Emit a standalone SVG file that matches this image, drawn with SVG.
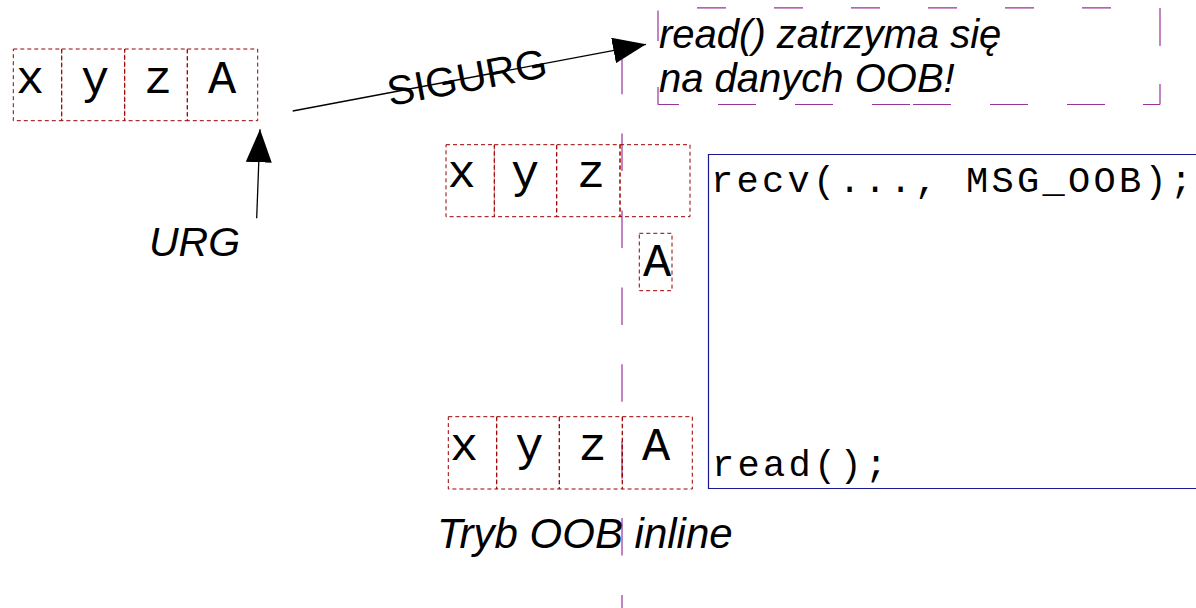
<svg xmlns="http://www.w3.org/2000/svg" width="1196" height="608" viewBox="0 0 1196 608">
  <style>
    .cell { fill: none; stroke: #990000; stroke-width: 1; stroke-dasharray: 4 3; }
    .ch { font-family: "Liberation Mono", "Courier New", monospace; font-size: 47px; fill: #000; text-anchor: middle; }
    .code { font-family: "Liberation Mono", "Courier New", monospace; font-size: 37px; letter-spacing: 3.3px; fill: #000; }
    .lbl { font-family: "Liberation Sans", Arial, sans-serif; font-size: 40px; fill: #000; font-style: italic; }
    .sig { font-family: "Liberation Sans", Arial, sans-serif; font-size: 41px; fill: #000; }
    .conn { stroke: #000; stroke-width: 1.3; fill: none; marker-end: url(#head); }
    .purple { stroke: #993399; stroke-width: 1.2; fill: none; }
  </style>
  <defs>
    <marker id="head" viewBox="0 0 33 26" refX="33" refY="13" markerWidth="33" markerHeight="26" markerUnits="userSpaceOnUse" orient="auto">
      <path d="M0,0 L33,13 L0,26 Z" fill="#000"/>
    </marker>
  </defs>
  <rect width="1196" height="608" fill="#fff"/>

  <!-- vertical dashed divider -->
  <line class="purple" x1="622" y1="56.7" x2="622" y2="608" stroke-dasharray="37.5 39.4"/>

  <!-- incoming buffer: x y z A -->
  <g id="buffer-in">
    <rect class="cell" x="13.3" y="49" width="48.4" height="71.7"/>
    <rect class="cell" x="61.7" y="49" width="63" height="71.7"/>
    <rect class="cell" x="124.7" y="49" width="62.6" height="71.7"/>
    <rect class="cell" x="187.3" y="49" width="70.4" height="71.7"/>
    <text class="ch" x="30" y="93">x</text>
    <text class="ch" x="95" y="93">y</text>
    <text class="ch" x="158" y="93">z</text>
    <text class="ch" x="222" y="93">A</text>
  </g>

  <g id="urg-label">
    <text class="lbl" x="149" y="256" style="font-size:41px">URG</text>
  </g>

  <g id="sigurg-label">
    <text class="sig" x="390" y="106" transform="rotate(-10.5 390 106)">SIGURG</text>
  </g>

  <!-- note box -->
  <g id="note">
    <path class="purple" d="M697,7.8H726M774,7.8H803M851,7.8H880M928,7.8H957M1005,7.8H1034M1082,7.8H1111
      M658,104.5H679M718,104.5H756M795,104.5H833M872,104.5H910M913,104.5H951M990,104.5H1028M1067,104.5H1105M1143,104.5H1160
      M658,10.5V41M658,87V104.5M1160,8V46M1160,84V104.5"/>
    <text class="lbl" x="659" y="48">read() zatrzyma się</text>
    <text class="lbl" x="659" y="92">na danych OOB!</text>
  </g>

  <!-- buffer after recv with MSG_OOB -->
  <g id="buffer-oob">
    <rect class="cell" x="446" y="144.7" width="48.3" height="72"/>
    <rect class="cell" x="494.3" y="144.7" width="62.4" height="72"/>
    <rect class="cell" x="556.7" y="144.7" width="63.3" height="72"/>
    <rect class="cell" x="620" y="144.7" width="70" height="72"/>
    <text class="ch" x="461.5" y="187.3">x</text>
    <text class="ch" x="525" y="187.3">y</text>
    <text class="ch" x="591" y="187.3">z</text>
  </g>

  <g id="oob-byte">
    <rect class="cell" x="639.3" y="233.3" width="32.7" height="57.4"/>
    <text class="ch" x="657" y="275.7">A</text>
  </g>

  <!-- inline buffer -->
  <g id="buffer-inline">
    <rect class="cell" x="448.3" y="416.7" width="48.4" height="72.3"/>
    <rect class="cell" x="496.7" y="416.7" width="62.6" height="72.3"/>
    <rect class="cell" x="559.3" y="416.7" width="63" height="72.3"/>
    <rect class="cell" x="622.3" y="416.7" width="70" height="72.3"/>
    <text class="ch" x="464" y="459.5">x</text>
    <text class="ch" x="529.3" y="459.5">y</text>
    <text class="ch" x="592.5" y="459.5">z</text>
    <text class="ch" x="656" y="459.5">A</text>
  </g>

  <!-- code box -->
  <g id="code">
    <path d="M1200,154.5H708.5V488.5H1200" fill="none" stroke="#1a1a90" stroke-width="1.2"/>
    <text class="code" x="711" y="191.7">recv(..., MSG_OOB);</text>
    <text class="code" x="712" y="476">read();</text>
  </g>

  <g id="caption">
    <text class="lbl" x="437" y="548" style="font-size:42px">Tryb OOB inline</text>
  </g>

  <!-- connectors -->
  <g id="connectors">
    <line class="conn" x1="256.7" y1="218.3" x2="260" y2="129.3"/>
    <line class="conn" x1="292.7" y1="111" x2="646" y2="44.3"/>
  </g>
</svg>
